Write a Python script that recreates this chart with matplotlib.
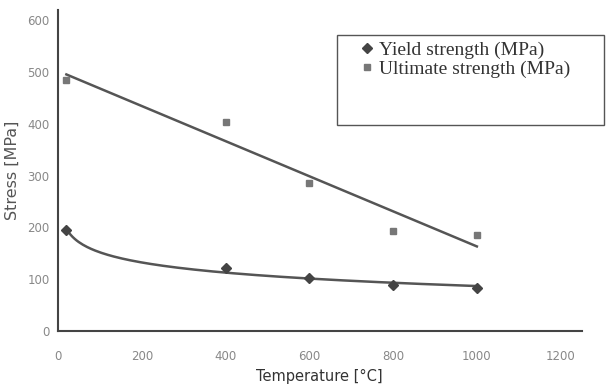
import numpy as np
import matplotlib.pyplot as plt
from matplotlib.patches import Rectangle

# data
temp = [20, 400, 600, 800, 1000]
yield_mpa = [195, 122, 102, 89, 82]
ultimate_mpa = [485, 404, 286, 193, 186]
xticks = [0, 200, 400, 600, 800, 1000, 1200]
yticks = [0, 100, 200, 300, 400, 500, 600]

fig = plt.figure(figsize=(6.06, 3.92), dpi=100)
ax = fig.add_axes([0.0957, 0.156, 0.864, 0.819])

t = np.array(temp, dtype=float)

# trendlines: linear for ultimate, logarithmic for yield
p = np.polyfit(t, ultimate_mpa, 1)
ax.plot([t[0], t[-1]], np.polyval(p, [t[0], t[-1]]), color='#555555', lw=1.8)
q = np.polyfit(np.log(t), yield_mpa, 1)
tt = np.linspace(t[0], t[-1], 200)
ax.plot(tt, np.polyval(q, np.log(tt)), color='#555555', lw=1.8)

ax.plot(temp, yield_mpa, 'D', color='#444444', ms=5.5, label='Yield strength (MPa)')
ax.plot(temp, ultimate_mpa, 's', color='#777777', ms=4, label='Ultimate strength (MPa)')

ax.set_xlim(0, 1250)
ax.set_ylim(0, 620)
ax.set_xticks(xticks)
ax.set_yticks(yticks)
ax.tick_params(length=0, labelsize=8.5, colors='#888888', pad=14)
ax.tick_params(axis='y', pad=6)
for s in ['top', 'right']:
    ax.spines[s].set_visible(False)
for s in ['left', 'bottom']:
    ax.spines[s].set_color('#444444')
    ax.spines[s].set_linewidth(1.5)

ax.set_xlabel('Temperature [°C]', fontsize=10.5, color='#333333', labelpad=4)
ax.set_ylabel('Stress [MPa]', fontsize=11.5, color='#555555')
ax.yaxis.set_label_coords(-0.072, 0.5)

# legend box
fig.patches.append(Rectangle((337 / 606, 1 - 125 / 392), 0.44, 90 / 392,
                             transform=fig.transFigure, fill=False,
                             edgecolor='#555555', lw=1))
fig.legend(loc='upper left', bbox_to_anchor=(340 / 606, 1 - 24 / 392),
           frameon=False, prop={'family': 'Liberation Serif', 'size': 14},
           handletextpad=0.1, handlelength=1, labelspacing=0.05,
           labelcolor='#333333')

fig.savefig('out.png', dpi=100)
